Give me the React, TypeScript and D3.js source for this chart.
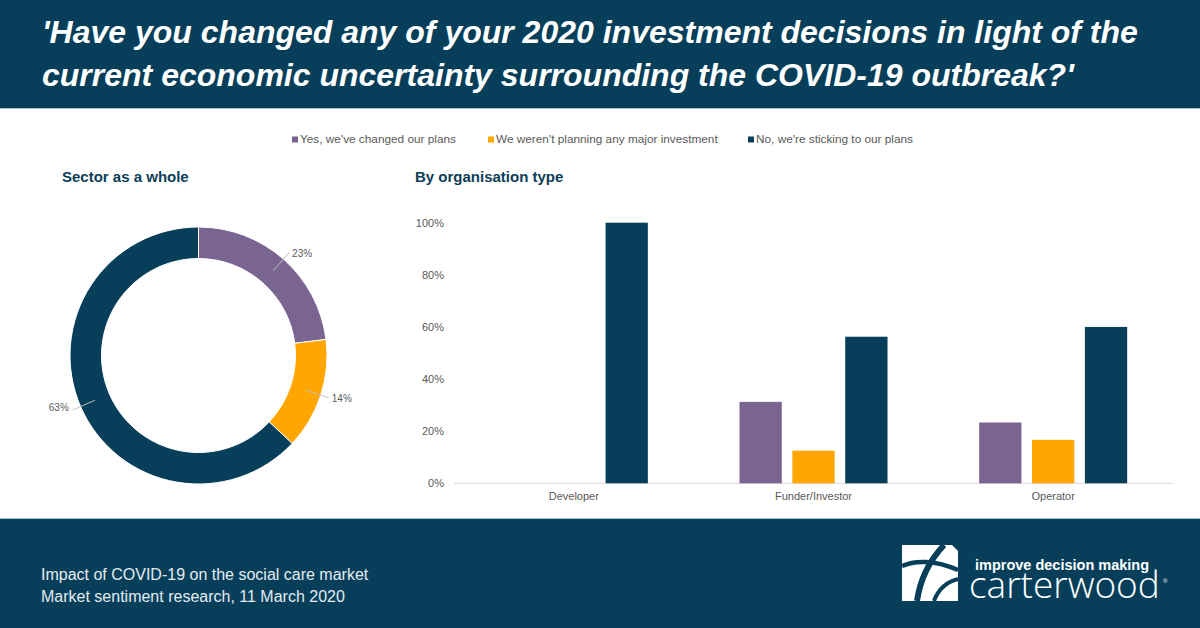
import React from 'react';
import * as d3 from 'd3';

// Survey answers
const answers = [
  "Yes, we've changed our plans",
  "We weren't planning any major investment",
  "No, we're sticking to our plans",
];
const answerColors = ['#7a6590', '#ffa600', '#073f5b'];

// Sector as a whole (percent)
const sectorShares = [23, 14, 63];

// By organisation type (share of respondents)
const orgTypes = ['Developer', 'Funder/Investor', 'Operator'];
const changedPlans = [0, 0.3125, 0.2333];
const notPlanning = [0, 0.125, 0.1667];
const stickingToPlans = [1, 0.5625, 0.6];

const yTicks = [0, 0.2, 0.4, 0.6, 0.8, 1];

const W = 1200;
const H = 628;
const NAVY = '#073f5b';
const GREY = '#595959';
const FONT = '"Liberation Sans", Arial, sans-serif';

const Donut = () => {
  const cx = 198.5;
  const cy = 355.5;
  const pie = d3.pie<number>().sort(null).value(d => d);
  const arc = d3.arc<d3.PieArcDatum<number>>().innerRadius(97).outerRadius(128.5);
  const arcs = pie(sectorShares);

  return (
    <g transform={`translate(${cx},${cy})`}>
      {arcs.map((a, i) => (
        <path key={i} d={arc(a) || ''} fill={answerColors[i]} stroke="#fff" strokeWidth={1} />
      ))}
      {arcs.map((a, i) => {
        const mid = (a.startAngle + a.endAngle) / 2;
        const sx = Math.sin(mid);
        const sy = -Math.cos(mid);
        const x1 = sx * 113, y1 = sy * 113;
        const x2 = sx * 137, y2 = sy * 137;
        const right = sx >= 0;
        return (
          <g key={`l${i}`}>
            <line x1={x1} y1={y1} x2={x2} y2={y2} stroke="#bfbfbf" strokeWidth={1} />
            <text
              x={x2 + (right ? 3 : -4)}
              y={y2 + (right ? 4 : 1)}
              textAnchor={right ? 'start' : 'end'}
              fontSize={10}
              fill={GREY}
            >
              {`${a.data}%`}
            </text>
          </g>
        );
      })}
    </g>
  );
};

const Bars = () => {
  const x0 = d3.scaleBand<string>().domain(orgTypes).range([454, 1173]);
  const x1 = d3.scaleBand<number>().domain([0, 1, 2]).range([0, 148]).paddingInner(0.2);
  const y = d3.scaleLinear().domain([0, 1]).range([483.3, 222.7]);
  const series = [changedPlans, notPlanning, stickingToPlans];
  const fmt = d3.format('.0%');

  return (
    <g>
      {yTicks.map(t => (
        <text key={t} x={444} y={y(t) + 4} textAnchor="end" fontSize={11} fill={GREY}>
          {fmt(t)}
        </text>
      ))}
      <line x1={454} x2={1173} y1={y(0)} y2={y(0)} stroke="#d9d9d9" strokeWidth={1} />
      {orgTypes.map((org, ci) => {
        const gx = (x0(org) || 0) + x0.bandwidth() / 2 - 74;
        return (
          <g key={org}>
            {series.map((s, si) =>
              s[ci] > 0 ? (
                <rect
                  key={si}
                  x={gx + (x1(si) || 0)}
                  y={y(s[ci])}
                  width={x1.bandwidth()}
                  height={y(0) - y(s[ci])}
                  fill={answerColors[si]}
                />
              ) : null
            )}
            <text
              x={(x0(org) || 0) + x0.bandwidth() / 2}
              y={500}
              textAnchor="middle"
              fontSize={11}
              fill={GREY}
            >
              {org}
            </text>
          </g>
        );
      })}
    </g>
  );
};

const Legend = () => {
  const xs = [292, 488, 748];
  return (
    <g>
      {answers.map((a, i) => (
        <g key={a}>
          <rect x={xs[i]} y={136.5} width={6} height={6} fill={answerColors[i]} />
          <text x={xs[i] + 8} y={143} fontSize={11.8} fill={GREY}>
            {a}
          </text>
        </g>
      ))}
    </g>
  );
};

const Logo = () => (
  <g>
    <rect x={902} y={545} width={56} height={56} fill="#fff" />
    <path d="M944,545 C930,560 920,580 917,601" stroke={NAVY} strokeWidth={6} fill="none" />
    <path d="M902,566 C915,560 935,560 958,570" stroke={NAVY} strokeWidth={4.5} fill="none" />
    <path d="M934,601 C938,590 946,582 958,579" stroke={NAVY} strokeWidth={4} fill="none" />
    <path d="M952,545 L958,545 L958,551 Z" fill={NAVY} />
    <text x={975} y={570} fontSize={14.5} fontWeight="bold" fill="#fff">
      improve decision making
    </text>
    <text x={969} y={598} fontSize={37} fill="#fff" fontFamily='"Open Sans", "DejaVu Sans", sans-serif' fontWeight={300}>
      carterwood
    </text>
    <text x={1163} y={583} fontSize={6} fill="#fff">®</text>
  </g>
);

export default function App() {
  return (
    <svg
      width={W}
      height={H}
      style={{ position: 'absolute', left: 0, top: 0, background: '#fff' }}
      fontFamily={FONT}
    >
      <rect x={0} y={0} width={W} height={108} fill={NAVY} />
      <rect x={0} y={108} width={W} height={1} fill="#a8c3cf" />
      <text fill="#fff" fontSize={32} fontWeight="bold" fontStyle="italic">
        <tspan x={42} y={43}>
          'Have you changed any of your 2020 investment decisions in light of the
        </tspan>
        <tspan x={42} y={86}>
          current economic uncertainty surrounding the COVID-19 outbreak?'
        </tspan>
      </text>

      <Legend />

      <text x={62} y={182} fontSize={15} fontWeight="bold" fill="#0d3d56">
        Sector as a whole
      </text>
      <text x={415} y={182} fontSize={15} fontWeight="bold" fill="#0d3d56">
        By organisation type
      </text>

      <Donut />
      <Bars />

      <rect x={0} y={518} width={W} height={1} fill="#a8c3cf" />
      <rect x={0} y={519} width={W} height={H - 519} fill={NAVY} />
      <text fill="#e3ebf0" fontSize={16}>
        <tspan x={41} y={580}>Impact of COVID-19 on the social care market</tspan>
        <tspan x={41} y={602}>Market sentiment research, 11 March 2020</tspan>
      </text>
      <Logo />
    </svg>
  );
}
